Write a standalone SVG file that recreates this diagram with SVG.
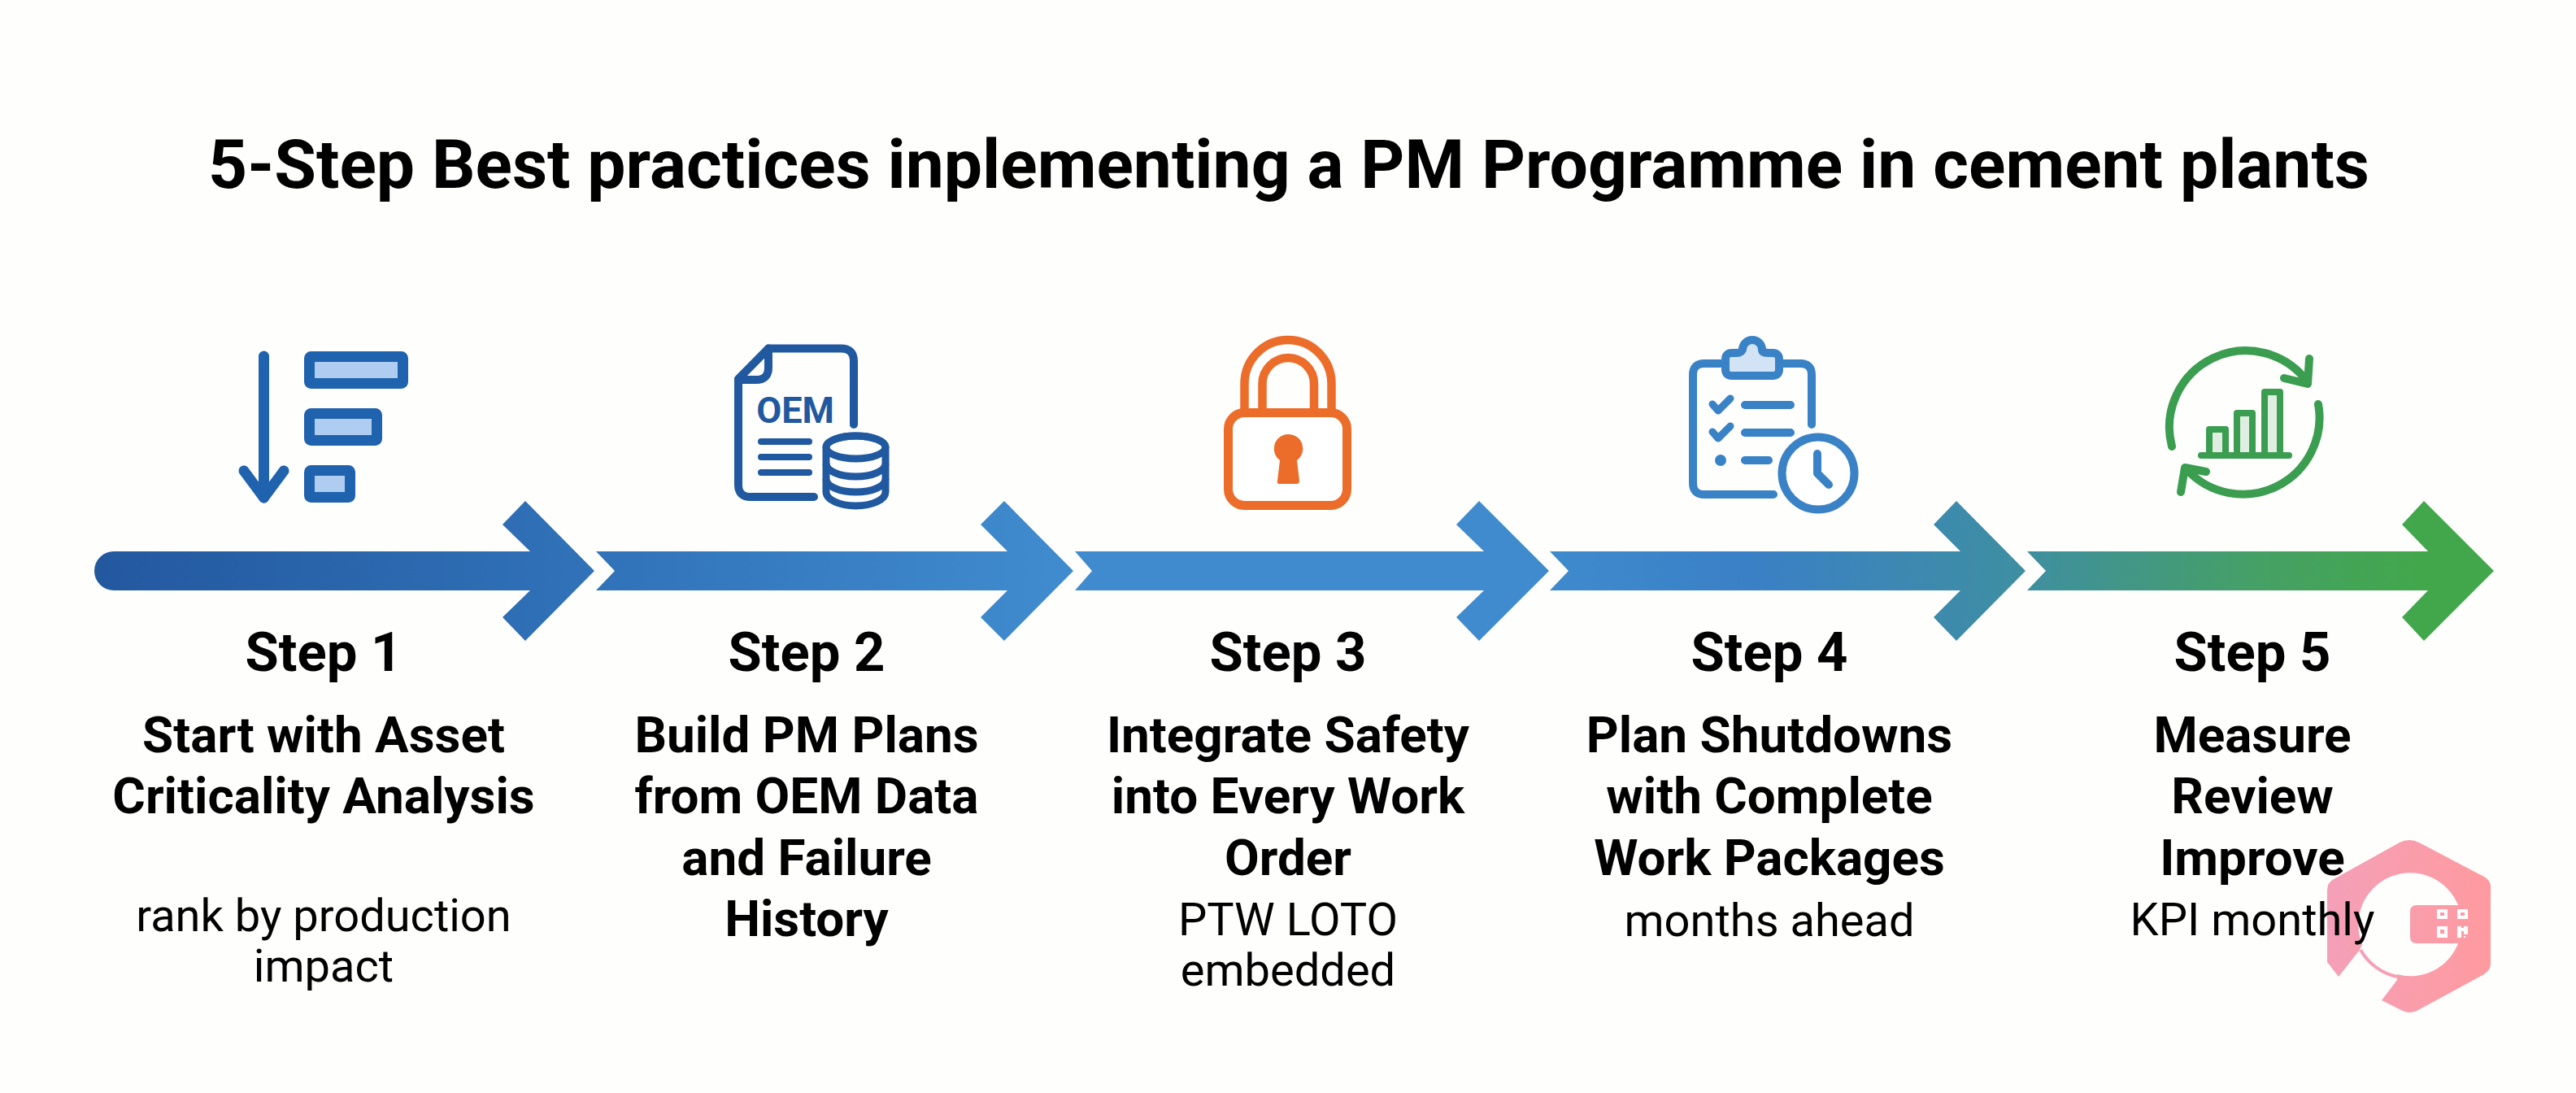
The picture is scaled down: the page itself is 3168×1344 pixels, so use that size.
<svg xmlns="http://www.w3.org/2000/svg" width="3168" height="1344" viewBox="0 0 3168 1344">
<style>
text{font-family:Roboto,"Liberation Sans",sans-serif;fill:#000;text-anchor:middle}
.title{font-size:84px;font-weight:700}
.step{font-size:67px;font-weight:700}
.head{font-size:62px;font-weight:700}
.sub{font-size:56px;font-weight:400}
.ln{fill:none;stroke-linecap:round;stroke-linejoin:round}
.b1{stroke:#1f62ae}
.b2{stroke:#20599f}
.b4{stroke:#3a82c6}
.g{stroke:#3a9d4f}
.o{stroke:#ec6c2a}
</style>
<defs>
<linearGradient id="flow" gradientUnits="userSpaceOnUse" x1="116" y1="0" x2="3067" y2="0">
<stop offset="0" stop-color="#23589f"/>
<stop offset="0.2" stop-color="#3071b7"/>
<stop offset="0.4" stop-color="#3f8bcd"/>
<stop offset="0.6" stop-color="#3f8bcd"/>
<stop offset="0.69" stop-color="#3a80c6"/>
<stop offset="0.8" stop-color="#3e8ea3"/>
<stop offset="0.9" stop-color="#45a066"/>
<stop offset="0.97" stop-color="#42a74b"/>
</linearGradient>
<linearGradient id="wm" x1="0" y1="0" x2="1" y2="0">
<stop offset="0" stop-color="#f4a0b8"/>
<stop offset="1" stop-color="#ff9a9f"/>
</linearGradient>
</defs>
<rect width="3168" height="1344" fill="#fefefd"/>
<g id="connectors" fill="url(#flow)">
<path d="M140 678H652L618 645L646 616L731 702L646 788L618 759L652 726H140A24 24 0 0 1 140 678Z"/>
<path d="M733 678H1239L1206 645L1235 616L1320 702L1235 788L1206 759L1239 726H733L756 702Z"/>
<path d="M1322 678H1825L1791 645L1819 616L1905 702L1819 788L1791 759L1825 726H1322L1343 702Z"/>
<path d="M1906 678H2411L2378 645L2406 616L2491 702L2406 788L2378 759L2411 726H1906L1929 702Z"/>
<path d="M2493 678H2986L2954 645L2981 616L3067 702L2981 788L2954 759L2986 726H2493L2516 702Z"/>
</g>
<text class="title" x="1585" y="231" id="title">5-Step Best practices inplementing a PM Programme in cement plants</text>
<g id="watermark">
<path fill="url(#wm)" d="M2929 1230L2955 1243Q2963 1247 2972 1243L3055 1198Q3063 1193 3063 1185V1090Q3063 1083 3055 1078L2975 1036Q2963 1030 2951 1036L2870 1081Q2862 1085 2862 1095V1183L2876 1201L2902 1168L2905 1161A62.5 62.5 0 0 1 3023 1113H2972Q2964 1113 2964 1121V1152Q2964 1160 2972 1160H3023A62.5 62.5 0 0 1 2948 1198V1205Z"/>
<path fill="none" stroke="#f4a0b8" stroke-width="4" d="M2903 1168A68 68 0 0 0 2948 1201"/>
<g fill="#fff">
<path fill-rule="evenodd" d="M2997 1118h13v12h-13zM3001 1122v4h5v-4zM3022 1118h13v12h-13zM3026 1122v4h5v-4zM2997 1139h13v14h-13zM3001 1143v5h5v-5z"/>
<path d="M3022 1139h5v14h-5zM3027 1141h3v4h-3zM3030 1139h5v10h-5zM3030 1151h2v2h-2z"/>
</g>
</g>
<g id="step1">
<path class="ln b1" stroke-width="13" d="M324.500 438V612"/>
<path class="ln b1" stroke-width="13" d="M300 579L324.500 612L349 579" />
<path d="M300 579L324.500 612L349 579Z" fill="none"/>
<g fill="#aecdf0" stroke="#1f62ae" stroke-width="13" stroke-linejoin="round">
<rect x="380.500" y="438.500" width="115" height="33" rx="2"/>
<rect x="380.500" y="508.500" width="83" height="33" rx="2"/>
<rect x="380.500" y="578.500" width="50" height="33" rx="2"/>
</g>
<text class="step" x="398" y="825">Step 1</text>
<text class="head" x="398" y="925">Start with Asset</text>
<text class="head" x="398" y="1000">Criticality Analysis</text>
<text class="sub" x="398" y="1145">rank by production</text>
<text class="sub" x="398" y="1207">impact</text>
</g>
<g id="step2">
<path class="ln b2" stroke-width="10" d="M1050 522V444Q1050 428.500 1034 428.500H945L908 466V596Q908 611 923 611H1001"/>
<path class="ln b2" stroke-width="10" d="M945 428.500V452Q945 467 930 467H908"/>
<text x="978" y="520" font-size="45" font-weight="700" style="fill:#20599f">OEM</text>
<path class="ln b2" stroke-width="8" d="M936 543H995M936 562H995M936 581H995"/>
<path fill="#fff" class="b2" stroke-width="9" d="M1016 550A36.500 14 0 0 1 1089 550V605A36.500 17 0 0 1 1016 605Z"/>
<ellipse cx="1052.500" cy="550" rx="36.500" ry="14" fill="none" class="b2" stroke-width="9"/>
<path fill="none" class="b2" stroke-width="9" d="M1016 570A36.500 16 0 0 0 1089 570M1016 589A36.500 16 0 0 0 1089 589"/>
<text class="step" x="992" y="825">Step 2</text>
<text class="head" x="992" y="925">Build PM Plans</text>
<text class="head" x="992" y="1000">from OEM Data</text>
<text class="head" x="992" y="1076">and Failure</text>
<text class="head" x="992" y="1151">History</text>
</g>
<g id="step3">
<path class="ln o" stroke-width="10.500" d="M1530.500 505V472A53.500 54 0 0 1 1637.500 472V505"/>
<path class="ln o" stroke-width="10.500" d="M1552.500 505V472A31.750 32 0 0 1 1616 472V505"/>
<rect x="1510.500" y="507.500" width="146" height="114" rx="20" fill="#fff" class="o" stroke-width="11"/>
<path fill="#ec6c2a" d="M1584 534A17.700 17.700 0 0 1 1595 566L1598 591Q1598 595 1595 595H1573Q1570 595 1571 591L1574 566A17.700 17.700 0 0 1 1584 534Z"/>
<text class="step" x="1584" y="825">Step 3</text>
<text class="head" x="1584" y="925">Integrate Safety</text>
<text class="head" x="1584" y="1000">into Every Work</text>
<text class="head" x="1584" y="1076">Order</text>
<text class="sub" x="1584" y="1150">PTW LOTO</text>
<text class="sub" x="1584" y="1212">embedded</text>
</g>
<g id="step4">
<path class="ln b4" stroke-width="10" d="M2116 447H2096Q2082 447 2082 461V594Q2082 608 2096 608H2181M2190 447H2214Q2228 447 2228 461V522"/>
<path fill="#d3e3f6" class="b4" stroke-width="10" stroke-linejoin="round" d="M2130 434H2135Q2143 434 2143 428V430A12 12 0 0 1 2167 430Q2167 434 2175 434H2180Q2188 434 2188 442V454Q2188 462 2180 462H2130Q2122 462 2122 454V442Q2122 434 2130 434Z"/>
<path class="ln b4" stroke-width="9" d="M2106 497L2113 505L2128 490M2106 531L2113 539L2128 524"/>
<path class="ln b4" stroke-width="10" d="M2146 498H2202M2146 532H2202M2146 566H2175"/>
<circle cx="2116" cy="566" r="7" fill="#3a82c6"/>
<circle cx="2236" cy="582" r="44.500" fill="#fff" class="b4" stroke-width="10"/>
<path class="ln b4" stroke-width="10" d="M2235 558V582L2249 596"/>
<text class="step" x="2176" y="825">Step 4</text>
<text class="head" x="2176" y="925">Plan Shutdowns</text>
<text class="head" x="2176" y="1000">with Complete</text>
<text class="head" x="2176" y="1076">Work Packages</text>
<text class="sub" x="2176" y="1151">months ahead</text>
</g>
<g id="step5">
<path class="ln g" stroke-width="10" d="M2671 549A94 94 0 0 1 2838 470M2840 441L2838 472L2809 465"/>
<path class="ln g" stroke-width="10" d="M2851 497A94 94 0 0 1 2689 577M2682 605L2687 575L2713 580"/>
<g fill="#dfeee0" class="g" stroke-width="8" stroke-linejoin="round">
<rect x="2717" y="528" width="20" height="32"/>
<rect x="2751" y="508" width="19" height="52"/>
<rect x="2785" y="482" width="19" height="78"/>
</g>
<path class="ln g" stroke-width="8" d="M2707 560H2815"/>
<text class="step" x="2770" y="825">Step 5</text>
<text class="head" x="2770" y="925">Measure</text>
<text class="head" x="2770" y="1000">Review</text>
<text class="head" x="2770" y="1076">Improve</text>
<text class="sub" x="2770" y="1150">KPI monthly</text>
</g>
</svg>
